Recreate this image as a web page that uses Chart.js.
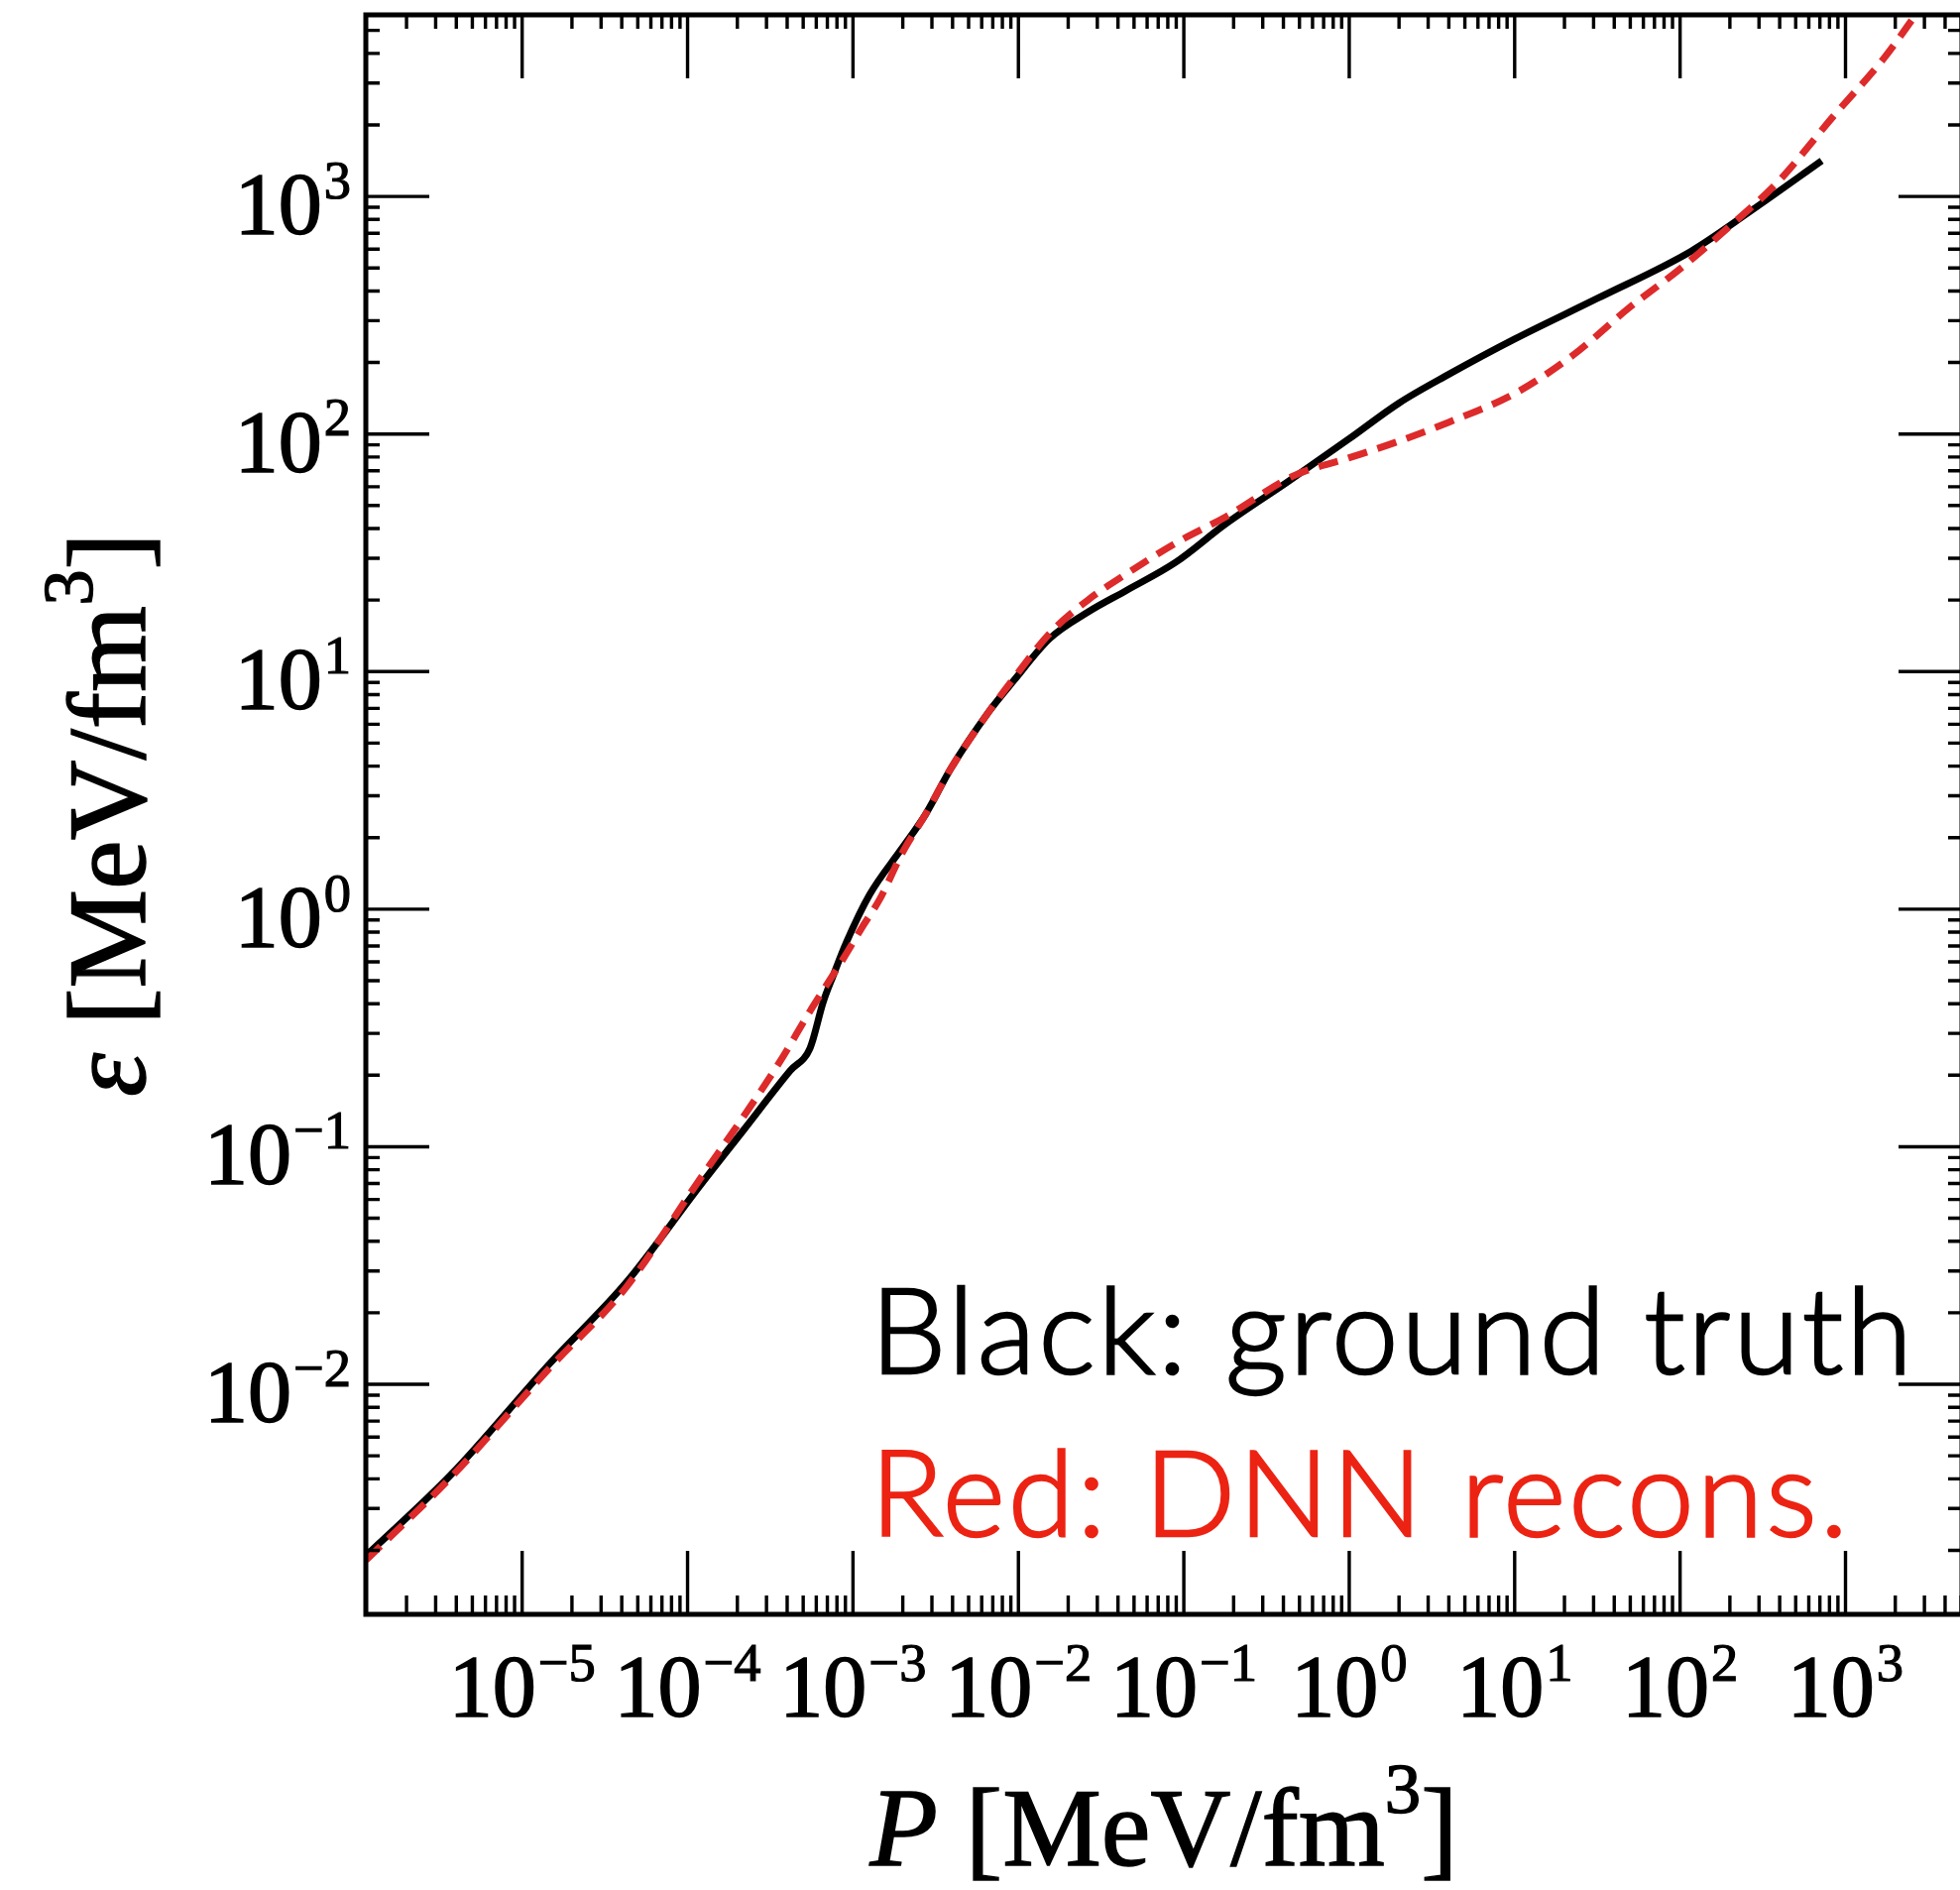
<!DOCTYPE html>
<html>
<head>
<meta charset="utf-8">
<title>Equation of state: DNN reconstruction</title>
<script src="https://cdn.jsdelivr.net/npm/chart.js@4.4.1/dist/chart.umd.min.js"></script>
<style>
  html, body { margin: 0; padding: 0; background: #ffffff; overflow: hidden; }
  #wrap { width: 1982px; height: 1906px; }
  canvas { display: block; }
</style>
</head>
<body>
<div id="wrap"><canvas id="eos" width="1982" height="1906"></canvas></div>
<script>
// Ground-truth equation of state: pressure P and energy density eps, MeV/fm^3
const truthP = [1.14e-6, 3.72e-6, 1.48e-5, 4.27e-5, 1.20e-4, 2.19e-4, 4.17e-4, 5.50e-4, 6.61e-4, 7.59e-4,
                9.12e-4, 1.26e-3, 1.95e-3, 2.75e-3, 3.89e-3, 6.61e-3, 9.33e-3, 1.55e-2, 2.63e-2, 4.47e-2,
                8.91e-2, 0.178, 0.427, 1.0, 2.0, 3.98, 10.0, 31.6, 117, 269, 718];
const truthEps = [1.90e-3, 4.17e-3, 1.23e-2, 2.69e-2, 6.92e-2, 0.118, 0.209, 0.260, 0.407, 0.525,
                  0.724, 1.15, 1.78, 2.51, 3.89, 6.76, 9.12, 13.8, 17.8, 21.9,
                  28.8, 41.7, 63.1, 95.5, 135, 178, 251, 372, 589, 871, 1413];

// DNN reconstruction of the same equation of state
const dnnP = [1.14e-6, 3.72e-6, 1.48e-5, 4.27e-5, 1.10e-4, 2.29e-4, 3.63e-4, 5.50e-4, 6.92e-4, 8.71e-4,
              1.15e-3, 1.45e-3, 2.00e-3, 2.75e-3, 3.89e-3, 6.61e-3, 9.33e-3, 1.55e-2, 2.63e-2, 4.47e-2,
              8.91e-2, 0.178, 0.468, 1.0, 2.0, 3.98, 10.0, 22.4, 49.0, 102, 204, 389, 851, 1700, 2820];
const dnnEps = [1.82e-3, 4.07e-3, 1.18e-2, 2.57e-2, 6.76e-2, 0.141, 0.229, 0.372, 0.479, 0.617,
                0.851, 1.10, 1.74, 2.51, 3.89, 6.76, 9.33, 14.5, 20.0, 25.7,
                34.7, 44.7, 67.0, 79.4, 93.3, 112, 148, 214, 339, 501, 759, 1148, 2188, 3802, 6166];

// Decade tick labels (powers of ten)
const xTickExponents = [-5, -4, -3, -2, -1, 0, 1, 2, 3];
const yTickExponents = [-2, -1, 0, 1, 2, 3];

// Axis titles: [text, style] pieces
const xTitleParts = [['P', 'italic'], [' [MeV/fm', 'normal'], ['3', 'sup'], [']', 'normal']];
const yTitleParts = [['\u03b5', 'italic'], [' [MeV/fm', 'normal'], ['3', 'sup'], [']', 'normal']];

// Annotation lines
const noteLines = [['Black: ground truth', '#000000'], ['Red: DNN recons.', '#ec2313']];

// Axis ranges
const xMin = 1.135e-6, xMax = 5.06e3;
const yMin = 1.076e-3, yMax = 5.81e3;

const SERIF = '"Liberation Serif", "Times New Roman", serif';
const SANS = 'Lato, "Noto Sans", "Open Sans", sans-serif';

function pts(xs, ys) { return xs.map((x, i) => ({ x: x, y: ys[i] })); }

// fill plus a hairline stroke gives the slightly heavier print look
function heavyText(ctx, t, x, y, w) {
  ctx.fillText(t, x, y);
  ctx.lineWidth = w;
  ctx.strokeText(t, x, y);
}

function drawPower(ctx, exp, x, baseY, size, align) {
  const base = '10';
  const sup = exp < 0 ? '\u2212' + Math.abs(exp) : String(exp);
  const supSize = size * 0.62;
  ctx.font = size + 'px ' + SERIF;
  const wb = ctx.measureText(base).width;
  ctx.font = supSize + 'px ' + SERIF;
  const ws = ctx.measureText(sup).width;
  const gap = 2;
  const total = wb + gap + ws;
  const left = align === 'center' ? x - total / 2 : x - total;
  ctx.textAlign = 'left';
  ctx.textBaseline = 'alphabetic';
  ctx.font = size + 'px ' + SERIF;
  heavyText(ctx, base, left, baseY, 1.6);
  ctx.font = supSize + 'px ' + SERIF;
  heavyText(ctx, sup, left + wb + gap, baseY - size * 0.4, 1.2);
}

function drawParts(ctx, parts, size) {
  // measures the pieces, then draws them centred on the origin's baseline
  const fontFor = (style) => style === 'italic' ? 'italic ' + size + 'px ' + SERIF
    : style === 'sup' ? (size * 0.65) + 'px ' + SERIF : size + 'px ' + SERIF;
  let total = 0;
  const widths = parts.map(([t, s]) => { ctx.font = fontFor(s); const w = ctx.measureText(t).width; total += w; return w; });
  let x = -total / 2;
  ctx.textAlign = 'left';
  ctx.textBaseline = 'alphabetic';
  parts.forEach(([t, s], i) => {
    ctx.font = fontFor(s);
    heavyText(ctx, t, x, s === 'sup' ? -size * 0.47 : 0, 1.4);
    x += widths[i];
  });
}

const framePlugin = {
  id: 'frameTicks',
  afterDatasetsDraw(chart) {
    const ctx = chart.ctx;
    const xs = chart.scales.x, ys = chart.scales.y;
    const { left, right, top, bottom } = chart.chartArea;
    ctx.save();
    ctx.strokeStyle = '#000';
    ctx.fillStyle = '#000';

    // tick marks, pointing inward on all four sides
    const major = 64;
    ctx.beginPath();
    for (let e = Math.floor(Math.log10(xMin)); e <= Math.ceil(Math.log10(xMax)); e++) {
      for (let m = 1; m <= 9; m++) {
        const v = m * Math.pow(10, e);
        if (v < xMin || v > xMax) continue;
        const px = xs.getPixelForValue(v);
        const lb = m === 1 ? major : 19, lt = m === 1 ? major : 14;
        ctx.moveTo(px, bottom); ctx.lineTo(px, bottom - lb);
        ctx.moveTo(px, top); ctx.lineTo(px, top + lt);
      }
    }
    for (let e = Math.floor(Math.log10(yMin)); e <= Math.ceil(Math.log10(yMax)); e++) {
      for (let m = 1; m <= 9; m++) {
        const v = m * Math.pow(10, e);
        if (v < yMin || v > yMax) continue;
        const py = ys.getPixelForValue(v);
        const l = m === 1 ? major : 14;
        ctx.moveTo(left, py); ctx.lineTo(left + l, py);
        ctx.moveTo(right, py); ctx.lineTo(right - l, py);
      }
    }
    ctx.lineWidth = 3.4;
    ctx.stroke();

    // frame
    ctx.lineWidth = 5;
    ctx.strokeRect(left, top, right - left, bottom - top);

    // decade labels
    xTickExponents.forEach(e => {
      drawPower(ctx, e, xs.getPixelForValue(Math.pow(10, e)), bottom + 102, 88, 'center');
    });
    yTickExponents.forEach(e => {
      drawPower(ctx, e, left - 15, ys.getPixelForValue(Math.pow(10, e)) + 37, 88, 'right');
    });

    // axis titles
    ctx.save();
    ctx.translate((left + right) / 2, 1881);
    drawParts(ctx, xTitleParts, 112);
    ctx.restore();

    ctx.save();
    ctx.translate(146, (top + bottom) / 2);
    ctx.rotate(-Math.PI / 2);
    drawParts(ctx, yTitleParts, 112);
    ctx.restore();

    // annotation
    ctx.textAlign = 'left';
    ctx.textBaseline = 'alphabetic';
    ctx.font = '300 121px ' + SANS;
    if ('letterSpacing' in ctx) ctx.letterSpacing = '3px';
    noteLines.forEach(([t, c], i) => {
      ctx.fillStyle = c;
      ctx.strokeStyle = c;
      heavyText(ctx, t, 878, 1385 + i * 164, 2.4);
    });
    ctx.restore();
  }
};

new Chart(document.getElementById('eos'), {
  type: 'line',
  data: {
    datasets: [
      {
        label: 'DNN reconstruction',
        data: pts(dnnP, dnnEps),
        borderColor: '#dd2a2a',
        borderWidth: 7,
        borderDash: [20, 11],
        pointRadius: 0,
        cubicInterpolationMode: 'monotone',
        fill: false,
        order: 0
      },
      {
        label: 'Ground truth',
        data: pts(truthP, truthEps),
        borderColor: '#000000',
        borderWidth: 7,
        pointRadius: 0,
        cubicInterpolationMode: 'monotone',
        fill: false,
        order: 1
      }
    ]
  },
  options: {
    responsive: false,
    animation: false,
    devicePixelRatio: 1,
    layout: { padding: { left: 369, top: 15, right: 3, bottom: 278 } },
    plugins: { legend: { display: false }, tooltip: { enabled: false } },
    scales: {
      x: { type: 'logarithmic', min: xMin, max: xMax, display: false },
      y: { type: 'logarithmic', min: yMin, max: yMax, display: false }
    }
  },
  plugins: [framePlugin]
});
</script>
</body>
</html>
